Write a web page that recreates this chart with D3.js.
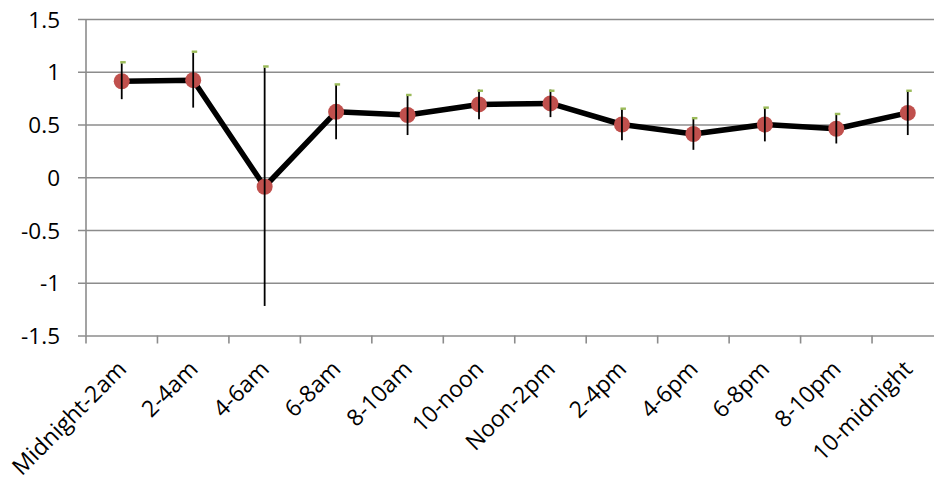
<!DOCTYPE html>
<html>
<head>
<meta charset="utf-8">
<script src="https://cdn.jsdelivr.net/npm/d3@7/dist/d3.min.js"></script>
<style>
  html, body { margin: 0; padding: 0; background: #fff; }
  svg { display: block; }
  text { font-family: "Open Sans", Lato, sans-serif; fill: #000; }
</style>
</head>
<body>
<svg id="chart" width="934" height="480"></svg>
<script>
const categories = ["Midnight-2am", "2-4am", "4-6am", "6-8am", "8-10am", "10-noon",
                    "Noon-2pm", "2-4pm", "4-6pm", "6-8pm", "8-10pm", "10-midnight"];
const means  = [0.91, 0.92, -0.09, 0.62, 0.59, 0.69, 0.70, 0.50, 0.41, 0.50, 0.46, 0.61];
const errors = [0.17, 0.26, 1.13, 0.26, 0.19, 0.14, 0.13, 0.15, 0.15, 0.16, 0.14, 0.21];
const upperMarks = [1.09, 1.19, 1.05, 0.88, 0.78, 0.82, 0.82, 0.65, 0.56, 0.66, 0.60, 0.82];
const yTicks = [-1.5, -1, -0.5, 0, 0.5, 1, 1.5];
const yTickLabels = ["-1.5", "-1", "-0.5", "0", "0.5", "1", "1.5"];

const svg = d3.select("#chart");
const mLeft = 86, mRight = 943.5, mTop = 19, mBottom = 335.5;

const x = d3.scaleBand().domain(categories).range([mLeft, mRight]).padding(0);
const y = d3.scaleLinear().domain([-1.5, 1.5]).range([mBottom, mTop]);
const cx = d => x(d) + x.bandwidth() / 2;

const gridColor = "#8c8c8c";

// gridlines + y axis
const yAxis = d3.axisLeft(y).tickValues(yTicks).tickSize(-(934 - mLeft)).tickPadding(0)
  .tickFormat((d, i) => yTickLabels[i]);
const gy = svg.append("g").attr("transform", `translate(${mLeft},0)`).call(yAxis);
gy.select(".domain").remove();
gy.selectAll(".tick line").attr("stroke", gridColor).attr("stroke-width", 1.6).attr("x1", -8);
gy.selectAll(".tick text").attr("x", -26).attr("font-size", 22.5).attr("dy", "0.36em");

// vertical axis line
svg.append("line").attr("x1", mLeft).attr("x2", mLeft).attr("y1", mTop).attr("y2", mBottom)
  .attr("stroke", gridColor).attr("stroke-width", 1.6);

// x axis ticks
const bounds = categories.map(c => x(c)).concat([x(categories[categories.length - 1]) + x.bandwidth()]);
svg.append("g").selectAll("line").data(bounds).join("line")
  .attr("x1", d => d).attr("x2", d => d).attr("y1", mBottom).attr("y2", mBottom + 8)
  .attr("stroke", gridColor).attr("stroke-width", 1.6);

// x labels
svg.append("g").selectAll("text").data(categories).join("text")
  .attr("transform", d => `translate(${cx(d) + 6},${mBottom + 35}) rotate(-45)`)
  .attr("text-anchor", "end")
  .attr("font-size", 23).text(d => d);

const data = categories.map((c, i) => ({c, m: means[i], e: errors[i], u: upperMarks[i]}));

// line
svg.append("path").datum(data)
  .attr("d", d3.line().x(d => cx(d.c)).y(d => y(d.m)))
  .attr("fill", "none").attr("stroke", "#000").attr("stroke-width", 5.5).attr("stroke-linejoin", "round");

// markers
svg.append("g").selectAll("circle").data(data).join("circle")
  .attr("cx", d => cx(d.c)).attr("cy", d => y(d.m)).attr("r", 8)
  .attr("fill", "#c0504d");

// error bars
svg.append("g").selectAll("line").data(data).join("line")
  .attr("x1", d => cx(d.c)).attr("x2", d => cx(d.c))
  .attr("y1", d => y(d.m + d.e)).attr("y2", d => y(d.m - d.e))
  .attr("stroke", "#000").attr("stroke-width", 1.8);

// green upper marks
svg.append("g").selectAll("rect").data(data).join("rect")
  .attr("x", d => cx(d.c) - 1.5).attr("y", d => y(d.u) - 1.2)
  .attr("width", 5.5).attr("height", 2.4).attr("fill", "#9bbb59");
</script>
</body>
</html>
